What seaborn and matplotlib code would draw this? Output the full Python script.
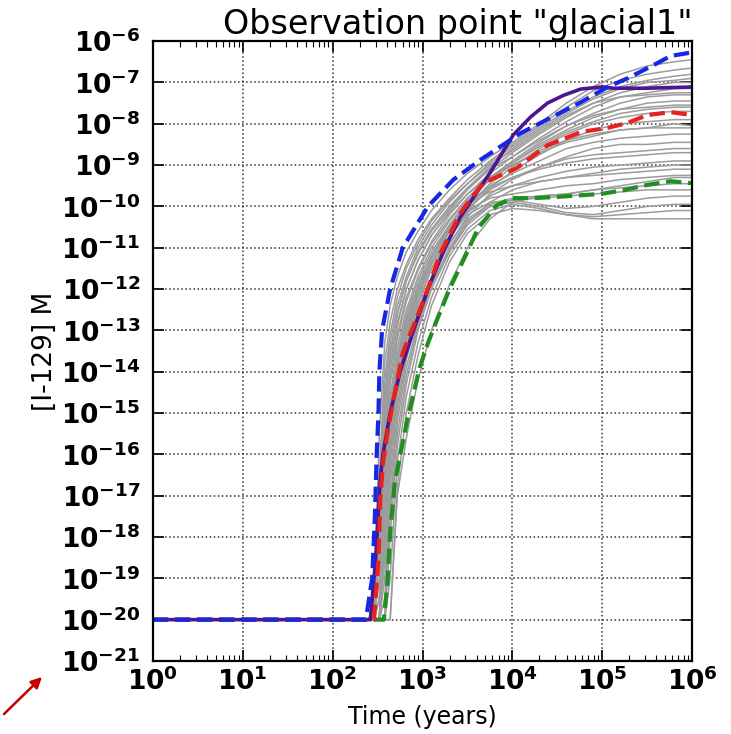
import numpy as np
import pandas as pd
import matplotlib
matplotlib.use("Agg")
import matplotlib.pyplot as plt
import matplotlib.ticker as mticker
import seaborn as sns

sns.set_theme(style="ticks")
plt.rcParams["font.family"] = ["DejaVu Sans"]
plt.rcParams["mathtext.fontset"] = "dejavusans"
plt.rcParams["mathtext.default"] = "bf"
plt.rcParams["text.color"] = "black"
plt.rcParams["axes.labelcolor"] = "black"
plt.rcParams["xtick.color"] = "black"
plt.rcParams["ytick.color"] = "black"

# ── Data (log10 of time in years, log10 of concentration in M) ────────────────
T_START = 0.0          # log10(1 year)
C_FLOOR = -20.0        # log10 of the initial concentration

blue_lt = [0, 2.37, 2.44, 2.47, 2.49, 2.51, 2.52, 2.55, 2.64, 2.78, 3.06,
           3.34, 3.64, 4.09, 4.42, 4.76, 5.06, 5.28, 5.57, 5.76, 5.95, 6.0]
blue_lc = [-20, -20, -19, -17.5, -16, -15, -14, -13, -12, -11, -10,
           -9.36, -8.88, -8.23, -7.86, -7.48, -7.11, -6.90, -6.58, -6.36,
           -6.29, -6.28]

purple_lt = [0, 2.42, 2.48, 2.53, 2.56, 2.64, 2.75, 2.90, 3.06, 3.25, 3.42,
             3.75, 4.01, 4.20, 4.39, 4.57, 4.76, 5.0, 5.12, 5.5, 6.0]
purple_lc = [-20, -20, -18.5, -16.6, -16.0, -15.0, -14.0, -13.0, -12.0, -11.0,
             -10.26, -9.19, -8.27, -7.84, -7.50, -7.31, -7.16, -7.11, -7.14,
             -7.14, -7.11]

red_lt = [0, 2.46, 2.51, 2.53, 2.56, 2.61, 2.66, 2.72, 2.78, 2.88, 2.97, 3.08,
          3.20, 3.42, 3.67, 4.05, 4.39, 4.76, 5.06, 5.28, 5.50, 5.76, 6.0]
red_lc = [-20, -20, -18.56, -17.1, -16.21, -15.48, -14.86, -14.20, -13.55,
          -12.99, -12.51, -11.86, -11.13, -10.16, -9.44, -9.07, -8.52, -8.20,
          -8.10, -7.98, -7.79, -7.72, -7.79]

green_lt = [0, 2.57, 2.61, 2.64, 2.69, 2.77, 2.83, 2.90, 2.97, 3.06, 3.16, 3.31,
            3.47, 3.62, 3.83, 4.0, 4.23, 4.50, 4.76, 4.98, 5.23, 5.50, 5.76, 6.0]
green_lc = [-20, -20, -19.11, -17.90, -16.69, -15.82, -15.17, -14.52, -13.89,
            -13.31, -12.75, -11.95, -11.23, -10.52, -9.97, -9.80, -9.80, -9.77,
            -9.73, -9.70, -9.61, -9.48, -9.39, -9.44]

# gray realisations, sampled on a common log10(time) grid
gray_lt = [2.40, 2.46, 2.52, 2.58, 2.64, 2.72, 2.82, 2.95, 3.10, 3.30,
           3.50, 3.75, 4.00, 4.30, 4.60, 4.90, 5.20, 5.50, 5.80, 6.00]
gray_lc = [
    [-20, -19.5, -15.5, -13.3, -12.4, -11.7, -11.1, -10.6, -10.1, -9.6, -9.2, -8.8, -8.45, -8.0, -7.5, -7.1, -6.8, -6.6, -6.5, -6.45],
    [-20, -20, -16.5, -13.8, -12.8, -12.0, -11.4, -10.8, -10.3, -9.8, -9.35, -8.9, -8.5, -8.05, -7.6, -7.2, -6.95, -6.8, -6.7, -6.65],
    [-20, -20, -17.5, -14.5, -13.3, -12.4, -11.7, -11.0, -10.45, -9.9, -9.45, -8.95, -8.55, -8.1, -7.7, -7.35, -7.1, -6.95, -6.85, -6.8],
    [-20, -20, -18.5, -15.0, -13.8, -12.8, -12.0, -11.3, -10.7, -10.1, -9.6, -9.1, -8.7, -8.25, -7.85, -7.5, -7.25, -7.1, -7.0, -7.0],
    [-20, -20, -19.5, -15.5, -14.2, -13.1, -12.2, -11.5, -10.85, -10.2, -9.7, -9.2, -8.8, -8.35, -7.95, -7.6, -7.35, -7.25, -7.15, -7.15],
    [-20, -20, -20, -16.0, -14.6, -13.4, -12.5, -11.7, -11.0, -10.35, -9.8, -9.3, -8.9, -8.45, -8.05, -7.75, -7.5, -7.35, -7.3, -7.3],
    [-20, -20, -20, -16.8, -15.0, -13.7, -12.7, -11.9, -11.2, -10.5, -9.9, -9.35, -8.95, -8.5, -8.15, -7.85, -7.65, -7.5, -7.45, -7.45],
    [-20, -20, -18.0, -14.8, -13.6, -12.6, -11.8, -11.1, -10.55, -10.0, -9.55, -9.1, -8.8, -8.4, -8.05, -7.8, -7.65, -7.6, -7.55, -7.55],
    [-20, -20, -20, -17.5, -15.4, -14.0, -13.0, -12.1, -11.35, -10.6, -10.0, -9.45, -9.05, -8.6, -8.25, -8.0, -7.85, -7.75, -7.7, -7.7],
    [-20, -20, -20, -18.5, -16.0, -14.5, -13.3, -12.3, -11.5, -10.75, -10.1, -9.55, -9.15, -8.75, -8.4, -8.15, -8.0, -7.95, -7.9, -7.9],
    [-20, -20, -19.0, -15.3, -14.0, -12.9, -12.0, -11.3, -10.7, -10.15, -9.7, -9.3, -9.0, -8.7, -8.45, -8.3, -8.15, -8.1, -8.0, -8.05],
    [-20, -20, -20, -17.0, -15.2, -13.9, -12.9, -12.0, -11.25, -10.5, -9.95, -9.5, -9.2, -8.9, -8.6, -8.45, -8.35, -8.3, -8.25, -8.25],
    [-20, -20, -20, -19.0, -16.5, -14.8, -13.6, -12.5, -11.7, -10.9, -10.25, -9.7, -9.35, -9.05, -8.8, -8.6, -8.5, -8.5, -8.45, -8.45],
    [-20, -20, -20, -16.3, -14.8, -13.6, -12.6, -11.8, -11.1, -10.45, -9.95, -9.55, -9.3, -9.1, -8.95, -8.85, -8.8, -8.75, -8.7, -8.7],
    [-20, -20, -20, -18.0, -15.8, -14.3, -13.2, -12.2, -11.4, -10.7, -10.15, -9.75, -9.5, -9.3, -9.15, -9.05, -9.0, -8.95, -8.9, -8.9],
    [-20, -20, -20, -20, -17.2, -15.2, -13.9, -12.8, -11.9, -11.05, -10.4, -9.9, -9.6, -9.4, -9.3, -9.25, -9.2, -9.15, -9.1, -9.1],
    [-20, -20, -20, -17.5, -15.5, -14.1, -13.0, -12.0, -11.25, -10.55, -10.1, -9.8, -9.7, -9.6, -9.5, -9.45, -9.35, -9.3, -9.25, -9.25],
    [-20, -20, -20, -19.5, -16.8, -15.0, -13.7, -12.6, -11.75, -10.9, -10.3, -9.95, -9.8, -9.75, -9.7, -9.6, -9.55, -9.5, -9.45, -9.45],
    [-20, -20, -20, -20, -18.0, -15.8, -14.3, -13.0, -12.0, -11.1, -10.45, -10.0, -9.85, -9.8, -9.75, -9.7, -9.65, -9.6, -9.6, -9.6],
    [-20, -20, -20, -18.5, -16.2, -14.6, -13.4, -12.4, -11.5, -10.75, -10.2, -9.9, -9.85, -9.95, -10.05, -10.0, -9.9, -9.8, -9.75, -9.75],
    [-20, -20, -20, -20, -17.5, -15.5, -14.1, -12.9, -11.9, -11.0, -10.35, -10.0, -9.9, -10.0, -10.15, -10.2, -10.1, -10.0, -9.95, -9.95],
    [-20, -20, -20, -20, -19.0, -16.2, -14.6, -13.3, -12.2, -11.2, -10.55, -10.1, -9.95, -10.05, -10.2, -10.25, -10.2, -10.15, -10.1, -10.1],
    [-20, -20, -20, -20, -20, -16.8, -15.0, -13.6, -12.4, -11.35, -10.65, -10.2, -10.05, -10.1, -10.2, -10.3, -10.3, -10.3, -10.3, -10.3],
    [-20, -20, -20, -20, -20, -17.0, -15.6, -14.2, -13.0, -11.9, -11.0, -10.3, -9.9, -9.75, -9.7, -9.6, -9.5, -9.4, -9.3, -9.3],
    [-20, -20, -17.0, -14.2, -13.1, -12.2, -11.5, -10.9, -10.35, -9.85, -9.45, -9.0, -8.65, -8.2, -7.8, -7.5, -7.35, -7.3, -7.25, -7.25],
    [-20, -20, -20, -16.5, -14.9, -13.7, -12.8, -11.95, -11.2, -10.45, -9.85, -9.35, -9.0, -8.65, -8.4, -8.25, -8.15, -8.1, -8.1, -8.1],
    [-20, -20, -18.0, -14.7, -13.5, -12.6, -11.8, -11.15, -10.6, -10.05, -9.55, -9.05, -8.6, -8.15, -7.75, -7.4, -7.15, -7.0, -6.95, -6.9],
    [-20, -20, -20, -17.8, -15.6, -14.2, -13.1, -12.15, -11.35, -10.6, -10.05, -9.6, -9.3, -9.05, -8.85, -8.75, -8.7, -8.65, -8.6, -8.6],
    [-20, -20, -20, -16.8, -15.1, -13.9, -12.9, -12.0, -11.2, -10.45, -9.95, -9.65, -9.5, -9.4, -9.3, -9.2, -9.1, -9.05, -9.0, -9.0],
    [-20, -20, -19.5, -15.7, -14.3, -13.2, -12.3, -11.55, -10.9, -10.3, -9.8, -9.3, -8.95, -8.55, -8.2, -7.95, -7.75, -7.65, -7.6, -7.6],
]

x_ticks = [1e0, 1e1, 1e2, 1e3, 1e4, 1e5, 1e6]
y_ticks = [10.0 ** e for e in range(-21, -5)]

# ── Build long table for the gray realisations ────────────────────────────────
rows = []
for i, lc in enumerate(gray_lc):
    rows.append((i, 10 ** T_START, 10 ** C_FLOOR))
    for lt, c in zip(gray_lt, lc):
        rows.append((i, 10 ** lt, 10 ** c))
gray = pd.DataFrame(rows, columns=["run", "t", "c"])


def curve(lt, lc):
    return pd.DataFrame({"t": 10 ** np.asarray(lt, float),
                         "c": 10 ** np.asarray(lc, float)})


# ── Plot ──────────────────────────────────────────────────────────────────────
fig = plt.figure(figsize=(7.31, 7.34), dpi=100)
ax = fig.add_axes([0.209, 0.0995, 0.738, 0.8445])
ax.set_xscale("log")
ax.set_yscale("log")

sns.lineplot(data=gray, x="t", y="c", units="run", estimator=None,
             color="#9c9c9c", lw=1.1, ax=ax, legend=False)
sns.lineplot(data=curve(purple_lt, purple_lc), x="t", y="c", ax=ax,
             color="#4b168f", lw=2.6, estimator=None)
sns.lineplot(data=curve(green_lt, green_lc), x="t", y="c", ax=ax,
             color="#1f8f1f", lw=3, linestyle="--", estimator=None)
sns.lineplot(data=curve(red_lt, red_lc), x="t", y="c", ax=ax,
             color="#e8231f", lw=3, linestyle="--", estimator=None)
sns.lineplot(data=curve(blue_lt, blue_lc), x="t", y="c", ax=ax,
             color="#1428e6", lw=3, linestyle="--", estimator=None)

ax.set_xlim(1e0, 1e6)
ax.set_ylim(1e-21, 1e-6)
ax.set_xticks(x_ticks)
ax.set_yticks(y_ticks)
ax.xaxis.set_minor_locator(mticker.LogLocator(base=10, subs=range(2, 10), numticks=20))
ax.yaxis.set_minor_locator(mticker.NullLocator())
fmt = mticker.FuncFormatter(lambda v, p: r"$10^{%d}$" % round(np.log10(v)))
ax.xaxis.set_major_formatter(fmt)
ax.yaxis.set_major_formatter(fmt)
ax.tick_params(which="both", direction="in", top=True, right=True,
               labelsize=19, color="black")
ax.tick_params(which="major", length=8, width=1.2)
ax.tick_params(which="minor", length=4, width=0.8)
ax.tick_params(axis="x", pad=5)
ax.tick_params(axis="y", pad=9)

ax.grid(True, which="major", color="#333333", ls=":", lw=1.1)
for sp in ax.spines.values():
    sp.set_color("black")
    sp.set_linewidth(1.6)

ax.set_title('Observation point "glacial1"', loc="right", fontsize=24, pad=4)
ax.set_xlabel("Time (years)", fontsize=17, labelpad=6)
ax.set_ylabel("[I-129] M", fontsize=19, labelpad=2)

# red arrow in the corner of the figure
ax.annotate("", xy=(44, 59), xytext=(2, 18), xycoords="figure pixels",
            textcoords="figure pixels",
            arrowprops=dict(arrowstyle="-|>", color="#c00000", lw=1.8,
                            mutation_scale=16))

fig.savefig("out.png", dpi=100)
plt.close(fig)
